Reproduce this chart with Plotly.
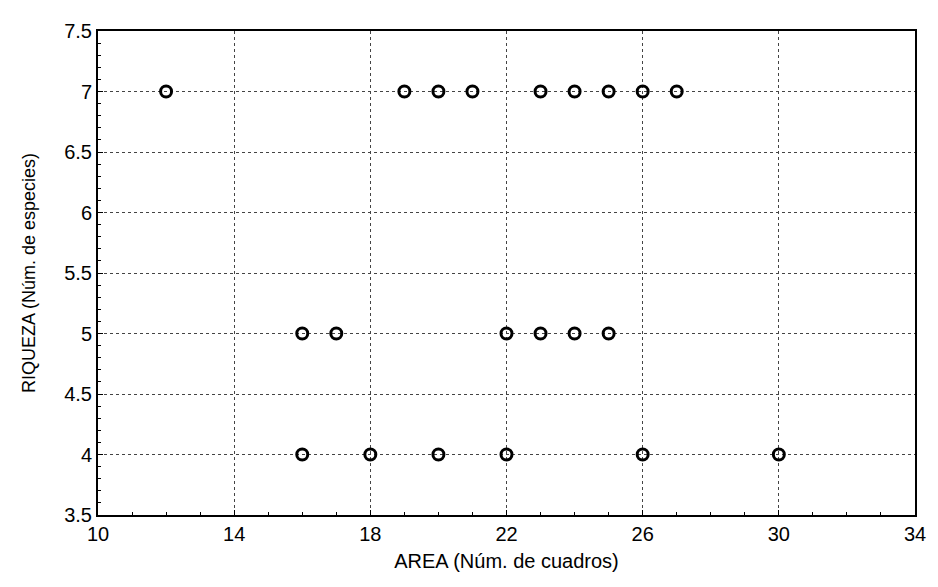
import plotly.graph_objects as go

area_7 = [12, 19, 20, 21, 23, 24, 25, 26, 27]
riq_7 = [7, 7, 7, 7, 7, 7, 7, 7, 7]
area_5 = [16, 17, 22, 23, 24, 25]
riq_5 = [5, 5, 5, 5, 5, 5]
area_4 = [16, 18, 20, 22, 26, 30]
riq_4 = [4, 4, 4, 4, 4, 4]

x_all = area_7 + area_5 + area_4
y_all = riq_7 + riq_5 + riq_4

x_ticks = [10, 14, 18, 22, 26, 30, 34]
y_ticks = [3.5, 4, 4.5, 5, 5.5, 6, 6.5, 7, 7.5]
y_tick_text = ["3.5", "4", "4.5", "5", "5.5", "6", "6.5", "7", "7.5"]

fig = go.Figure()
fig.add_trace(go.Scatter(
    x=x_all, y=y_all, mode="markers",
    marker=dict(symbol="circle-open", size=11, color="black", line=dict(width=3, color="black")),
    showlegend=False,
))

fam = "Liberation Sans, Arial, sans-serif"
tickfont = dict(family=fam, size=20, color="black")

# page body has an 8px default margin, so the figure is sized to fit the window
fig.update_layout(
    width=930, height=579,
    margin=dict(l=90, r=16, t=15, b=72),
    paper_bgcolor="white", plot_bgcolor="white",
    font=dict(family=fam, size=18, color="black"),
    xaxis=dict(
        range=[10, 34], tickvals=x_ticks, ticktext=[str(v) for v in x_ticks],
        tickfont=tickfont,
        showline=True, linecolor="black", linewidth=2, mirror=True,
        showgrid=True, gridcolor="#444", griddash="dot", gridwidth=1,
        ticks="inside", ticklen=5, tickcolor="black",
        minor=dict(dtick=1, ticks="inside", ticklen=3, tickcolor="black", showgrid=False),
        zeroline=False,
        title=dict(text="AREA (Núm. de cuadros)", font=dict(family=fam, size=20, color="black"), standoff=10),
    ),
    yaxis=dict(
        range=[3.5, 7.5], tickvals=y_ticks, ticktext=y_tick_text,
        tickfont=tickfont,
        showline=True, linecolor="black", linewidth=2, mirror=True,
        showgrid=True, gridcolor="#444", griddash="dot", gridwidth=1,
        ticks="inside", ticklen=5, tickcolor="black",
        minor=dict(dtick=0.1, ticks="inside", ticklen=3, tickcolor="black", showgrid=False),
        zeroline=False,
        title=dict(text="RIQUEZA (Núm. de especies)", font=dict(family=fam, size=18, color="black"), standoff=24),
    ),
)

fig.write_html("out.html")
